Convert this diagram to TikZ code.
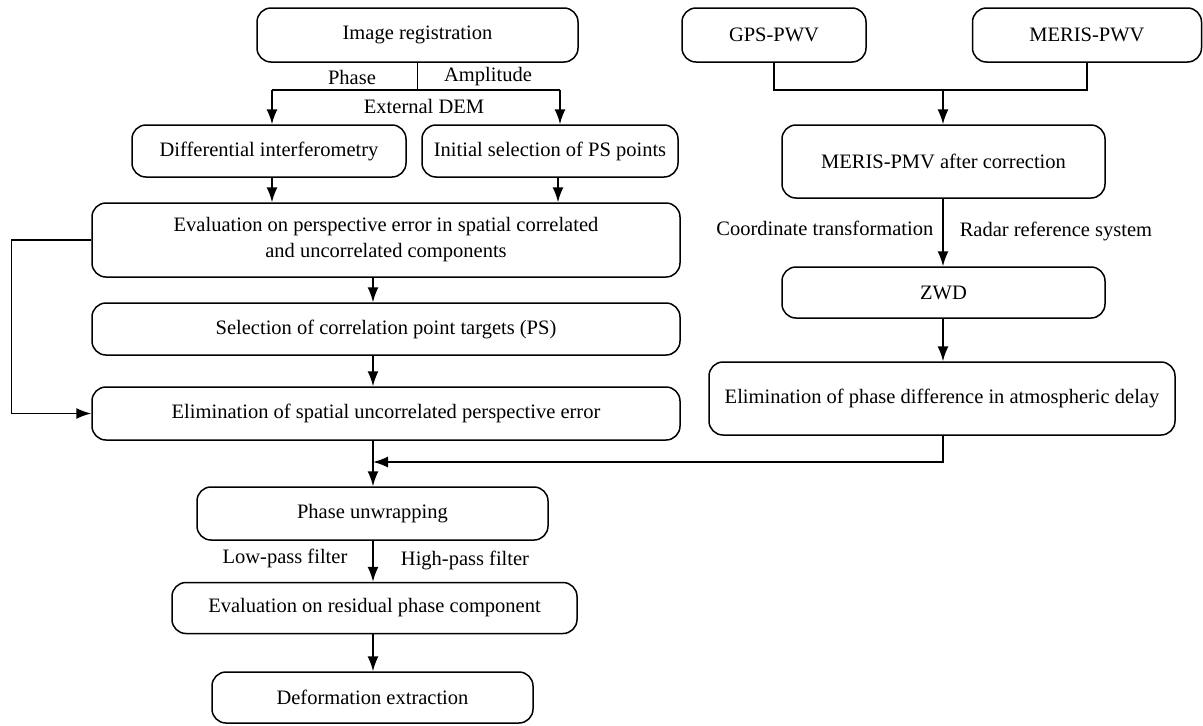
\documentclass[tikz,border=0pt]{standalone}
\usepackage{fontspec}
\setmainfont{Liberation Serif}
\usetikzlibrary{arrows.meta}

\begin{document}
\begin{tikzpicture}[x=1pt,y=-1pt,line width=1.5pt,
	box/.style={draw, rounded corners=14pt, align=center, inner sep=0pt,
		font=\fontsize{20.5}{26}\selectfont},
	lbl/.style={inner sep=0pt, font=\fontsize{20.5}{24}\selectfont},
	arr/.style={-{Latex[length=15pt,width=11pt]}}]
	\useasboundingbox (0,0) rectangle (1203,726);

	% left branch
	\node[box, minimum width=321pt, minimum height=54pt] (reg) at (417.5,35) {Image registration};
	\node[box, minimum width=274pt, minimum height=52pt] (diff) at (269,151) {Differential interferometry};
	\node[box, minimum width=256pt, minimum height=52pt] (init) at (550,151) {Initial selection of PS points};
	\node[box, minimum width=588pt, minimum height=74pt] (eval) at (386,240)
		{Evaluation on perspective error in spatial correlated\\ and uncorrelated components};
	\node[box, minimum width=588pt, minimum height=52pt] (sel) at (386,329) {Selection of correlation point targets (PS)};
	\node[box, minimum width=588pt, minimum height=53pt] (elim) at (386,413.5) {Elimination of spatial uncorrelated perspective error};
	\node[box, minimum width=351pt, minimum height=53pt] (unwrap) at (372.5,513.5) {Phase unwrapping};
	\node[box, minimum width=405pt, minimum height=51pt] (resid) at (374.5,608) {Evaluation on residual phase component};
	\node[box, minimum width=321pt, minimum height=51pt] (deform) at (372.5,697.5) {Deformation extraction};

	% right branch
	\node[box, minimum width=184pt, minimum height=54pt] (gps) at (774,35) {GPS-PWV};
	\node[box, minimum width=229pt, minimum height=54pt] (meris) at (1087,35) {MERIS-PWV};
	\node[box, minimum width=323pt, minimum height=73pt] (pmv) at (943.5,161.5) {MERIS-PMV after correction};
	\node[box, minimum width=323pt, minimum height=51pt] (zwd) at (943.5,292.5) {ZWD};
	\node[box, minimum width=466pt, minimum height=73pt] (atmo) at (942,398.5)
		{Elimination of phase difference in atmospheric delay};

	\coordinate (jl) at (272,90);
	\coordinate (jr) at (560,90);
	\coordinate (wj) at (943,90);
	\coordinate (mid) at (373,462);

	% labels
	\node[lbl] (phase) at (352,77) {Phase};
	\node[lbl] (ampl) at (488,77) {Amplitude};
	\node[lbl] (dem) at (424,106) {External DEM};
	\node[lbl, anchor=east] (coord) at (934,228) {Coordinate transformation};
	\node[lbl, anchor=west] (radar) at (959,231) {Radar reference system};
	\node[lbl] (low) at (285,558) {Low-pass filter};
	\node[lbl] (high) at (465,560) {High-pass filter};

	% connectors
	\draw (reg.south) -- (reg.south |- jl);
	\draw (jl) -- (jr);
	\draw[arr] (jl) -- (jl |- diff.north);
	\draw[arr] (jr) -- (jr |- init.north);
	\draw[arr] (diff.south -| jl) -- (eval.north -| jl);
	\draw[arr] (init.south -| 558,0) -- (eval.north -| 558,0);
	\draw[arr] (eval.south -| mid) -- (sel.north -| mid);
	\draw[arr] (sel.south -| mid) -- (elim.north -| mid);
	\draw[arr] (eval.west) -- ++(-80,0) |- (elim.west);
	\draw[arr] (elim.south -| mid) -- (unwrap.north -| mid);
	\draw[arr] (unwrap.south -| mid) -- (resid.north -| mid);
	\draw[arr] (resid.south -| mid) -- (deform.north -| mid);

	\draw (gps.south) |- (wj) -| (meris.south);
	\draw[arr] (wj) -- (wj |- pmv.north);
	\draw[arr] (pmv.south -| wj) -- (zwd.north -| wj);
	\draw[arr] (zwd.south -| wj) -- (atmo.north -| wj);
	\draw[arr] (atmo.south -| wj) |- (mid);
\end{tikzpicture}
\end{document}
